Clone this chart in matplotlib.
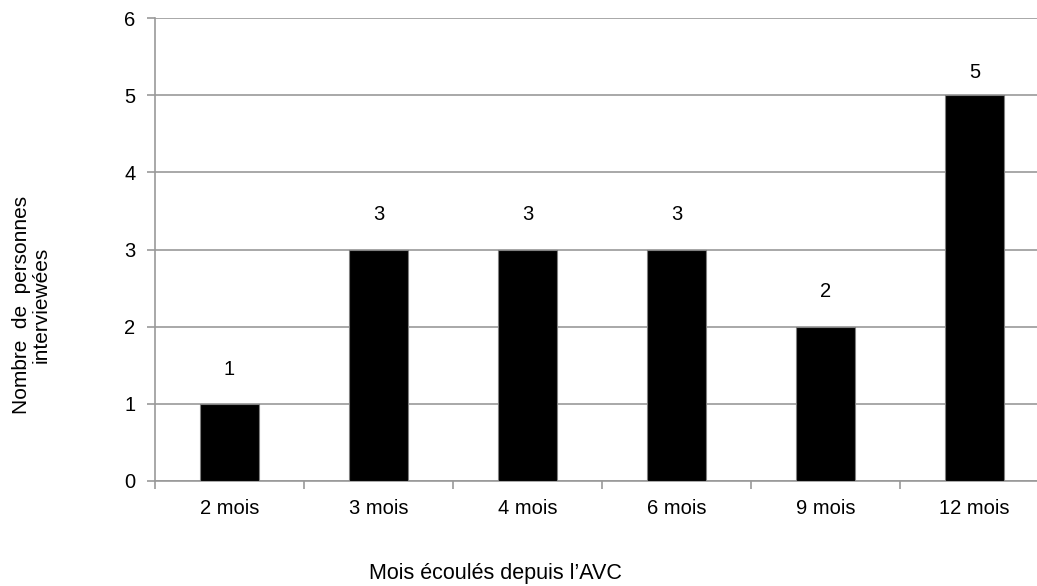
import matplotlib
matplotlib.use("Agg")
import matplotlib.pyplot as plt

categories = ["2 mois", "3 mois", "4 mois", "6 mois", "9 mois", "12 mois"]
values = [1, 3, 3, 3, 2, 5]

plt.rcParams['font.family'] = ['Liberation Sans', 'DejaVu Sans']

fig = plt.figure(figsize=(10.37, 5.86), dpi=100)
ax = fig.add_axes([155 / 1037, 105 / 586, 894 / 1037, 463 / 586])

x = list(range(len(categories)))
ax.bar(x, values, width=0.40, color='black', edgecolor='#808080', linewidth=0.8, zorder=3)

ax.set_xlim(-0.5, len(categories) - 0.5)
ax.set_ylim(0, 6)
ax.set_yticks(range(0, 7))
ax.yaxis.grid(True, color='#999999', linewidth=1.2, zorder=0)
ax.set_axisbelow(True)

for s in ['top', 'right']:
    ax.spines[s].set_visible(False)
for s in ['left', 'bottom']:
    ax.spines[s].set_color('#999999')
    ax.spines[s].set_linewidth(1.2)

ax.set_xticks([i - 0.5 for i in range(len(categories) + 1)], minor=False)
ax.set_xticklabels([])
ax.set_xticks(x, minor=True)
ax.set_xticklabels(categories, minor=True, fontsize=14.5)
ax.tick_params(axis='x', which='minor', length=0, pad=13)
ax.tick_params(axis='x', which='major', length=6, color='#999999', width=1.2)
ax.tick_params(axis='y', length=6, color='#999999', width=1.2, labelsize=14.5, pad=8)

for xi, v in zip(x, values):
    off = 16 if v >= 5 else 25
    ax.annotate(str(v), (xi, v), xytext=(0, off), textcoords='offset points',
                ha='center', va='center', fontsize=14.5)

fig.text(495 / 1037, 1 - 573 / 586, "Mois écoulés depuis l\u2019AVC", ha='center', va='center', fontsize=15.5)
fig.text(31 / 1037, 1 - 305 / 586, "Nombre  de  personnes\ninterviewées", rotation=90, ha='center', va='center',
         fontsize=15, multialignment='center', linespacing=1.05)

fig.savefig("out.png", dpi=100)
